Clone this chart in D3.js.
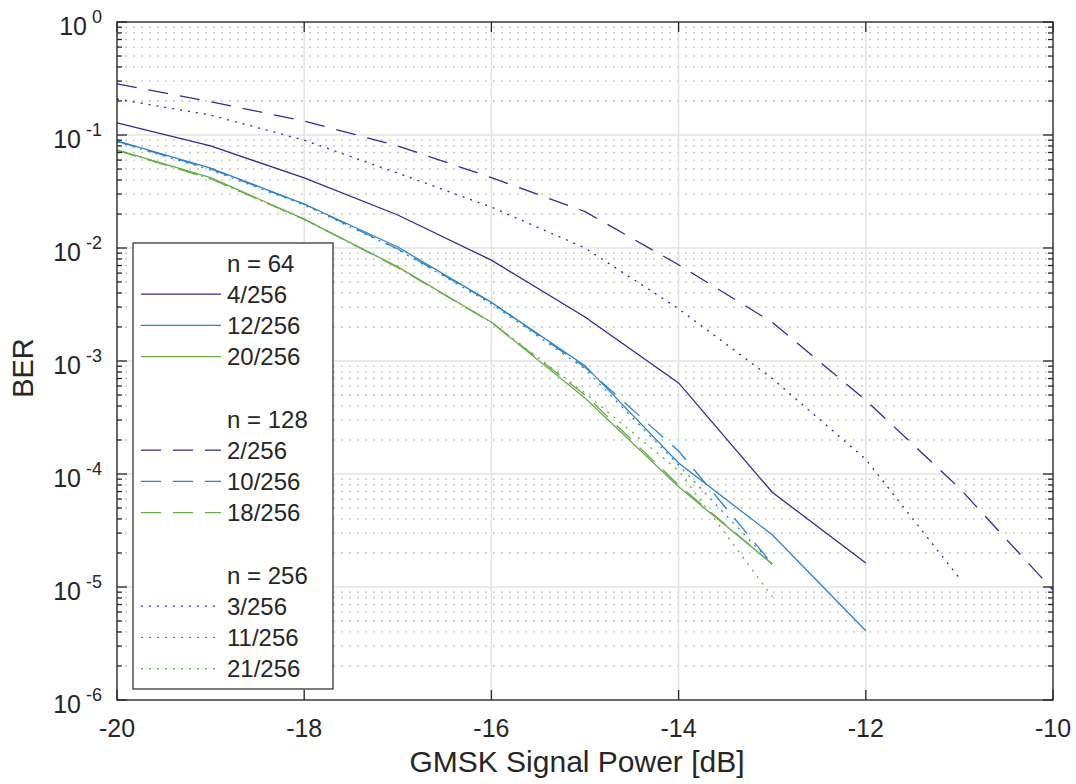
<!DOCTYPE html>
<html>
<head>
<meta charset="utf-8">
<script src="https://cdn.jsdelivr.net/npm/d3@7"></script>
<style>
  body { margin: 0; background: #fff; }
  text { font-family: "Liberation Sans", Arial, Helvetica, sans-serif; fill: #262626; }
</style>
</head>
<body>
<div id="chart"></div>
<script>
// signal power axis [dB]
const power = [-20, -19, -18, -17, -16, -15, -14, -13, -12, -11, -10];

// n = 64
const ber4_256 = [0.128, 0.080, 0.0417, 0.0196, 0.0078, 0.00245, 0.00064, 6.9e-5, 1.63e-5];
const ber12_256 = [0.0885, 0.051, 0.0245, 0.0102, 0.0033, 0.00091, 1.25e-4, 2.9e-5, 4.1e-6];
const ber20_256 = [0.074, 0.042, 0.018, 0.0068, 0.0022, 4.7e-4, 7.7e-5, 1.6e-5];
// n = 128
const ber2_256 = [0.283, 0.197, 0.133, 0.080, 0.042, 0.021, 0.0071, 0.0022, 4.5e-4, 7.5e-5, 9.4e-6];
const ber10_256 = [0.088, 0.050, 0.0245, 0.0098, 0.0033, 0.00088, 1.6e-4, 1.6e-5];
const ber18_256 = [0.073, 0.041, 0.018, 0.0067, 0.0022, 5.0e-4, 8.0e-5, 1.6e-5];
// n = 256
const ber3_256 = [0.208, 0.15, 0.09, 0.046, 0.023, 0.010, 0.0029, 7.0e-4, 1.35e-4, 1.2e-5];
const ber11_256 = [0.087, 0.049, 0.024, 0.0097, 0.0032, 8.5e-4, 1.2e-4, 1.6e-5];
const ber21_256 = [0.073, 0.041, 0.0178, 0.0068, 0.0022, 5.2e-4, 1.07e-4, 8.2e-6];

const xTicks = [-20, -18, -16, -14, -12, -10];
const yExps = [0, -1, -2, -3, -4, -5, -6];

const purple = "#37288c", blue = "#2b84c8", green = "#68ad48";
const dashed = "20,12", dotted = "2,6";

const series = [
  { label: "4/256", values: ber4_256, color: purple, dash: null },
  { label: "12/256", values: ber12_256, color: blue, dash: null },
  { label: "20/256", values: ber20_256, color: green, dash: null },
  { label: "2/256", values: ber2_256, color: purple, dash: dashed },
  { label: "10/256", values: ber10_256, color: blue, dash: dashed },
  { label: "18/256", values: ber18_256, color: green, dash: dashed },
  { label: "3/256", values: ber3_256, color: purple, dash: dotted },
  { label: "11/256", values: ber11_256, color: blue, dash: dotted },
  { label: "21/256", values: ber21_256, color: green, dash: dotted },
];
// legend rows: group titles, entries, blank spacers
const legendRows = [
  "n = 64", 0, 1, 2, "",
  "n = 128", 3, 4, 5, "",
  "n = 256", 6, 7, 8,
];

const W = 1076, H = 784;
const margin = { top: 22, right: 23, bottom: 84, left: 117 };
const width = W - margin.left - margin.right;
const height = H - margin.top - margin.bottom;

const svg = d3.select("#chart").append("svg")
  .attr("width", W).attr("height", H);
const g = svg.append("g")
  .attr("transform", "translate(" + margin.left + "," + margin.top + ")");

const x = d3.scaleLinear().domain([-20, -10]).range([0, width]);
const y = d3.scaleLog().domain([1e-6, 1]).range([height, 0]);

// minor grid (dotted) and minor tick values
const minors = [];
for (let e = -6; e < 0; e++) {
  for (let k = 2; k <= 9; k++) minors.push(k * Math.pow(10, e));
}
g.append("g").selectAll("line").data(minors).enter().append("line")
  .attr("x1", 0).attr("x2", width)
  .attr("y1", d => y(d)).attr("y2", d => y(d))
  .attr("stroke", "#c4c4c4").attr("stroke-width", 1.3)
  .attr("stroke-dasharray", "2,6");

// major grid
g.append("g").selectAll("line").data(yExps).enter().append("line")
  .attr("x1", 0).attr("x2", width)
  .attr("y1", d => y(Math.pow(10, d))).attr("y2", d => y(Math.pow(10, d)))
  .attr("stroke", "#e3e3e3").attr("stroke-width", 1.5);
g.append("g").selectAll("line").data(xTicks).enter().append("line")
  .attr("x1", d => x(d)).attr("x2", d => x(d))
  .attr("y1", 0).attr("y2", height)
  .attr("stroke", "#e3e3e3").attr("stroke-width", 1.5);

// curves
const line = d3.line()
  .x((d, i) => x(power[i]))
  .y(d => y(d));
g.append("g").selectAll("path").data(series).enter().append("path")
  .attr("d", d => line(d.values))
  .attr("fill", "none")
  .attr("stroke", d => d.color)
  .attr("stroke-width", 1.3)
  .attr("stroke-dasharray", d => d.dash);

// box
g.append("rect").attr("width", width).attr("height", height)
  .attr("fill", "none").attr("stroke", "#262626").attr("stroke-width", 1.3);

// ticks
const tk = g.append("g").attr("stroke", "#262626").attr("stroke-width", 1.3);
xTicks.forEach(t => {
  tk.append("line").attr("x1", x(t)).attr("x2", x(t)).attr("y1", height).attr("y2", height - 10);
  tk.append("line").attr("x1", x(t)).attr("x2", x(t)).attr("y1", 0).attr("y2", 10);
});
yExps.forEach(e => {
  const yy = y(Math.pow(10, e));
  tk.append("line").attr("x1", 0).attr("x2", 10).attr("y1", yy).attr("y2", yy);
  tk.append("line").attr("x1", width).attr("x2", width - 10).attr("y1", yy).attr("y2", yy);
});
minors.forEach(m => {
  const yy = y(m);
  tk.append("line").attr("x1", 0).attr("x2", 5).attr("y1", yy).attr("y2", yy);
  tk.append("line").attr("x1", width).attr("x2", width - 5).attr("y1", yy).attr("y2", yy);
});

// tick labels
g.append("g").selectAll("text").data(xTicks).enter().append("text")
  .attr("x", d => x(d)).attr("y", height + 37)
  .attr("text-anchor", "middle").attr("font-size", 25)
  .text(d => d);

const yl = g.append("g").selectAll("text").data(yExps).enter().append("text")
  .attr("x", -15).attr("y", d => y(Math.pow(10, d)) + 13)
  .attr("text-anchor", "end").attr("font-size", 25);
yl.append("tspan").text("10");
yl.append("tspan").attr("dx", 5).attr("dy", -12).attr("font-size", 18)
  .text(d => d === 0 ? "0" : "-" + Math.abs(d));

// axis labels
svg.append("text")
  .attr("x", 577).attr("y", 772)
  .attr("text-anchor", "middle").attr("font-size", 30)
  .text("GMSK Signal Power [dB]");
svg.append("text")
  .attr("transform", "translate(33," + (margin.top + height / 2 + 7) + ") rotate(-90)")
  .attr("text-anchor", "middle").attr("font-size", 29)
  .text("BER");

// legend
const lg = svg.append("g").attr("transform", "translate(133,243)");
lg.append("rect").attr("width", 200).attr("height", 446)
  .attr("fill", "#fff").attr("stroke", "#262626").attr("stroke-width", 1.2);
legendRows.forEach((r, i) => {
  const cy = 20 + i * 31.2;
  if (typeof r === "number") {
    const s = series[r];
    lg.append("line").attr("x1", 8).attr("x2", 88).attr("y1", cy).attr("y2", cy)
      .attr("stroke", s.color).attr("stroke-width", 1.3)
      .attr("stroke-dasharray", s.dash);
    lg.append("text").attr("x", 94).attr("y", cy + 8.5).attr("font-size", 24).text(s.label);
  } else if (r) {
    lg.append("text").attr("x", 94).attr("y", cy + 8.5).attr("font-size", 24).text(r);
  }
});
</script>
</body>
</html>
